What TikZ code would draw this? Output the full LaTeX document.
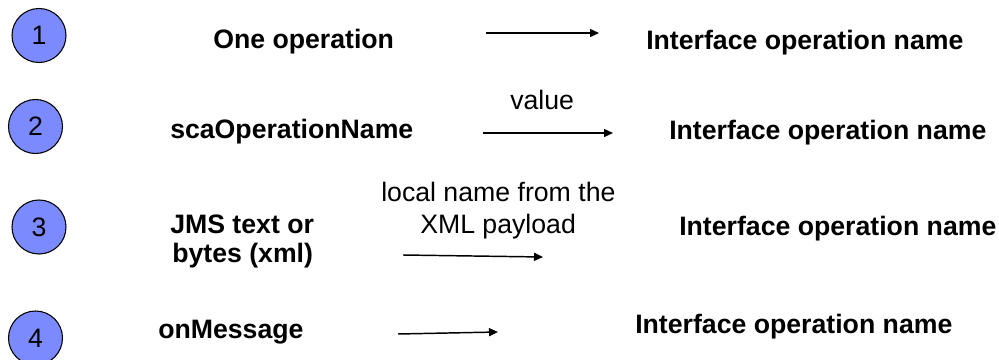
\documentclass[tikz,border=0pt]{standalone}
\usepackage{fontspec}
\setmainfont{Liberation Sans}
\usetikzlibrary{arrows.meta}
\definecolor{stepfill}{HTML}{7B8BFF}
\tikzset{
  num/.style={circle, draw=black, line width=0.8pt, fill=stepfill, minimum size=40.5pt, inner sep=0pt, font=\fontsize{20}{24}\selectfont},
  src/.style={font=\bfseries\fontsize{20}{22}\selectfont, inner sep=0pt, anchor=base west},
  dst/.style={font=\bfseries\fontsize{20}{22}\selectfont, inner sep=0pt, anchor=base west},
  lbl/.style={font=\fontsize{20}{22}\selectfont, inner sep=0pt, anchor=base west},
  flow/.style={line width=1.1pt, -{Triangle[length=6.75pt,width=6pt]}},
}
\begin{document}
\begin{tikzpicture}[x=0.75pt, y=-0.75pt]
\useasboundingbox (0,0) rectangle (999,360);
\clip (0,0) rectangle (999,360);

% numbered markers
\node[num] (n1) at (39,35.5) {1};
\node[num] (n2) at (35.5,126.5) {2};
\node[num] (n3) at (39,227) {3};
\node[num] (n4) at (35.5,338) {4};

% source texts
\node[src] (s1) at (213,49) {One operation};
\node[src] (s2) at (170,138) {scaOperationName};
\node[src] (s3a) at (170,233) {JMS text or};
\node[src] (s3b) at (172,262) {bytes (xml)};
\node[src] (s4) at (158,338) {onMessage};

% target texts
\node[dst] (d1) at (646,50) {Interface operation name};
\node[dst] (d2) at (669,139) {Interface operation name};
\node[dst] (d3) at (679,235) {Interface operation name};
\node[dst] (d4) at (635,333) {Interface operation name};

% arrow labels
\node[lbl] (l2) at (510,109) {value};
\node[lbl] (l3a) at (381,201) {local name from the};
\node[lbl] (l3b) at (420,233) {XML payload};

% arrows
\coordinate (a1s) at (486,33);  \coordinate (a1e) at (599,33);
\coordinate (a2s) at (483,133); \coordinate (a2e) at (613,133);
\coordinate (a3s) at (403,255); \coordinate (a3e) at (543,257);
\coordinate (a4s) at (398,334); \coordinate (a4e) at (498,332);
\draw[flow] (a1s) -- (a1e);
\draw[flow] (a2s) -- (a2e);
\draw[flow] (a3s) -- (a3e);
\draw[flow] (a4s) -- (a4e);
\end{tikzpicture}
\end{document}
